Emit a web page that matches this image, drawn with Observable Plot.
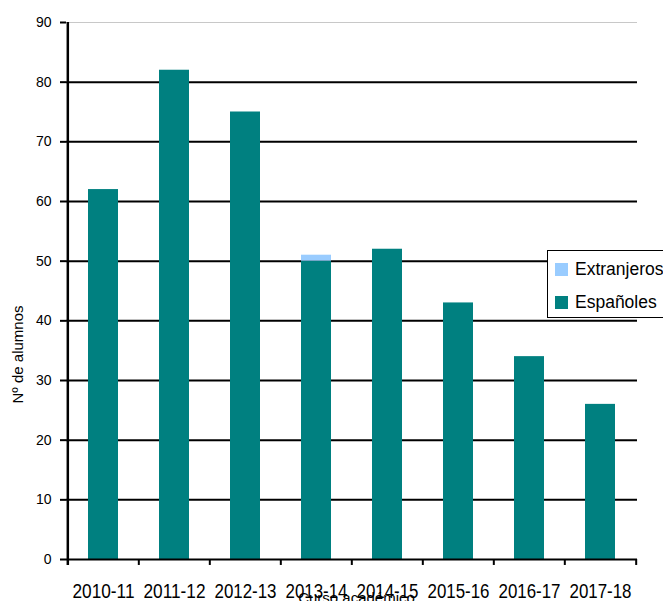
<!DOCTYPE html>
<html>
<head>
<meta charset="utf-8">
<script src="https://cdn.jsdelivr.net/npm/d3@7"></script>
<script src="https://cdn.jsdelivr.net/npm/@observablehq/plot@0.6"></script>
<style>
  html, body { margin: 0; padding: 0; background: #fff; }
  #wrap { position: relative; width: 663px; height: 601px; overflow: hidden; }
  #legend { position: absolute; left: 547px; top: 250px; width: 125px; height: 66px;
    border: 1px solid #000; background: #fff; font-family: "Liberation Sans", Arial, sans-serif; font-size: 17.5px; color: #000; }
  .item { position: absolute; left: 7px; display: flex; align-items: center; white-space: nowrap; }
  .sw { width: 13px; height: 13px; margin-right: 7px; }
</style>
</head>
<body>
<div id="wrap"></div>
<script>
const categorias = ["2010-11", "2011-12", "2012-13", "2013-14", "2014-15", "2015-16", "2016-17", "2017-18"];
const espanoles = [62, 82, 75, 50, 52, 43, 34, 26];
const extranjeros = [0, 0, 0, 1, 0, 0, 0, 0];
const series = ["Españoles", "Extranjeros"];
const colores = ["#008080", "#99CCFF"];
const yTicks = [0, 10, 20, 30, 40, 50, 60, 70, 80, 90];
const gridTicks = [10, 20, 30, 40, 50, 60, 70, 80];

const datos = [];
categorias.forEach((c, i) => {
  datos.push({curso: c, serie: series[0], valor: espanoles[i]});
  datos.push({curso: c, serie: series[1], valor: extranjeros[i]});
});

const W = 663, H = 601, mL = 66, mR = 26, mT = 22, mB = 42;
const half = (W - mL - mR) / categorias.length / 2;

const chart = Plot.plot({
  width: W, height: H,
  marginLeft: mL, marginRight: mR, marginTop: mT, marginBottom: mB,
  style: {fontFamily: "'Liberation Sans', Arial, sans-serif", background: "#fff", color: "#000"},
  x: {domain: categorias, paddingInner: 0.58, paddingOuter: 0.29, align: 0.5},
  y: {domain: [0, 90]},
  color: {domain: series, range: colores},
  marks: [
    Plot.ruleY([90], {stroke: "#c8c8c8", strokeWidth: 1}),
    Plot.ruleY(gridTicks, {stroke: "#000", strokeWidth: 2}),
    Plot.barY(datos, {x: "curso", y: "valor", fill: "serie", order: series}),
    Plot.ruleY([0], {stroke: "#000", strokeWidth: 2}),
    Plot.ruleX([categorias[0]], {dx: -half, y1: -1, y2: 90, stroke: "#000", strokeWidth: 2.5, clip: false}),
    Plot.ruleX(categorias.slice(1), {dx: -half, y1: 0, y2: -1, stroke: "#000", strokeWidth: 2, clip: false}),
    Plot.ruleX([categorias[categorias.length - 1]], {dx: half, y1: 0, y2: -1, stroke: "#000", strokeWidth: 2, clip: false}),
    Plot.axisY({ticks: yTicks, tickSize: 6, tickPadding: 9, fontSize: 14, strokeWidth: 2, label: null}),
    Plot.axisX({tickSize: 0, tickPadding: 24, fontSize: 20, label: null}),
    Plot.text(["Nº de alumnos"], {frameAnchor: "left", textAnchor: "middle", dx: 18 - mL, dy: 63.5, rotate: -90, fontSize: 15, lineAnchor: "middle", text: d => d}),
    Plot.text(["Curso académico"], {frameAnchor: "bottom", textAnchor: "middle", dx: 4.5, dy: 43, fontSize: 15, lineAnchor: "bottom", text: d => d})
  ]
});

// condense the x tick labels like the narrow font of the original
d3.select(chart).selectAll('g[aria-label="x-axis tick label"] text')
  .attr("textLength", 62)
  .attr("lengthAdjust", "spacingAndGlyphs");

const wrap = document.getElementById("wrap");
wrap.appendChild(chart);

const legend = document.createElement("div");
legend.id = "legend";
const order = [1, 0];
order.forEach((k, j) => {
  const item = document.createElement("div");
  item.className = "item";
  item.style.top = (j === 0 ? 8 : 41) + "px";
  const sw = document.createElement("span");
  sw.className = "sw";
  sw.style.background = colores[k];
  const t = document.createElement("span");
  t.textContent = series[k];
  item.appendChild(sw);
  item.appendChild(t);
  legend.appendChild(item);
});
wrap.appendChild(legend);
</script>
</body>
</html>
